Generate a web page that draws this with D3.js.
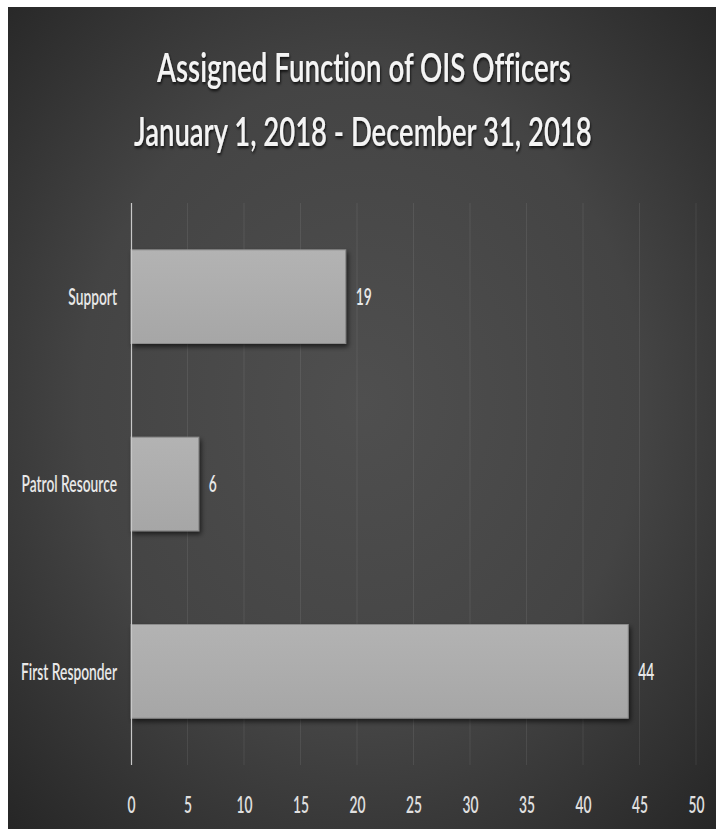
<!DOCTYPE html>
<html><head><meta charset="utf-8">
<script src="https://cdn.jsdelivr.net/npm/d3@7"></script>
<style>html,body{margin:0;padding:0;background:#fff;}svg{display:block;}text{font-variant-ligatures:none;}</style>
</head><body>
<script>
const categories = ["Support", "Patrol Resource", "First Responder"];
const values = [19, 6, 44];
const xTicks = [0, 5, 10, 15, 20, 25, 30, 35, 40, 45, 50];
const titleLines = ["Assigned Function of OIS Officers", "January 1, 2018 - December 31, 2018"];

const W = 726, H = 839;
const svg = d3.select("body").append("svg").attr("width", W).attr("height", H);
const defs = svg.append("defs");

const bg = defs.append("radialGradient").attr("id", "bg").attr("cx", "50%").attr("cy", "48%").attr("r", "72%");
bg.append("stop").attr("offset", "0%").attr("stop-color", "#4f4f4f");
bg.append("stop").attr("offset", "55%").attr("stop-color", "#444444");
bg.append("stop").attr("offset", "100%").attr("stop-color", "#262626");

const bar = defs.append("linearGradient").attr("id", "bar").attr("x1", 0).attr("y1", 0).attr("x2", 0).attr("y2", 1);
bar.append("stop").attr("offset", "0%").attr("stop-color", "#b3b3b3");
bar.append("stop").attr("offset", "100%").attr("stop-color", "#a6a6a6");

const sh = defs.append("filter").attr("id", "shadow").attr("x", "-10%").attr("y", "-20%").attr("width", "130%").attr("height", "160%");
sh.append("feDropShadow").attr("dx", 2).attr("dy", 3).attr("stdDeviation", 2.5).attr("flood-color", "#000").attr("flood-opacity", 0.6);

const tsh = defs.append("filter").attr("id", "tshadow").attr("x", "-5%").attr("y", "-20%").attr("width", "110%").attr("height", "160%");
tsh.append("feDropShadow").attr("dx", 1).attr("dy", 2).attr("stdDeviation", 1.5).attr("flood-color", "#000").attr("flood-opacity", 0.8);

// panel
svg.append("rect").attr("x", 8).attr("y", 7).attr("width", 708).attr("height", 822).attr("fill", "url(#bg)");

const x0 = 131, x1 = 696, yTop = 203, yBot = 765;
const x = d3.scaleLinear().domain([0, 50]).range([x0, x1]);
const y = d3.scaleBand().domain(categories).range([yTop, yBot]).paddingInner(0.5).paddingOuter(0.25);

const FONT = "Lato, 'Open Sans', sans-serif";
const SX = 0.6, FS = 23;

// gridlines
svg.append("g").selectAll("line").data(xTicks.filter(d => d > 0)).join("line")
  .attr("x1", d => x(d)).attr("x2", d => x(d)).attr("y1", yTop).attr("y2", yBot)
  .attr("stroke", "#ffffff").attr("stroke-opacity", 0.08).attr("stroke-width", 1);

// bars
svg.append("g").selectAll("rect").data(categories).join("rect")
  .attr("x", x(0)).attr("y", d => y(d))
  .attr("width", (d, i) => x(values[i]) - x(0)).attr("height", y.bandwidth())
  .attr("fill", "url(#bar)").attr("stroke", "#8c8c8c").attr("stroke-width", 1)
  .attr("filter", "url(#shadow)");

// axis line
svg.append("line").attr("x1", x0 + 0.5).attr("x2", x0 + 0.5).attr("y1", yTop).attr("y2", yBot)
  .attr("stroke", "#c8c8c8").attr("stroke-width", 1.2);

function squeezed(sel, sx) {
  sel.each(function() {
    const t = d3.select(this);
    const tx = +t.attr("x"), ty = +t.attr("y");
    t.attr("transform", `translate(${tx},${ty}) scale(${sx},1) translate(${-tx},${-ty})`);
  });
}

// x axis labels
const xAxis = d3.axisBottom(x).tickValues(xTicks).tickSize(0).tickPadding(0);
const gx = svg.append("g").attr("transform", `translate(0,${813})`).call(xAxis);
gx.select(".domain").remove();
gx.selectAll(".tick text").attr("y", 0).attr("dy", 0).attr("x", 0).attr("fill", "#e0e0e0")
  .attr("font-family", FONT).attr("font-size", FS).attr("font-weight", 600)
  .attr("transform", `scale(${SX},1)`);

// category labels
const cl = svg.append("g").selectAll("text").data(categories).join("text")
  .attr("x", 117).attr("y", d => y(d) + y.bandwidth() / 2 + 8.5)
  .attr("text-anchor", "end").attr("fill", "#e8e8e8")
  .attr("font-family", FONT).attr("font-size", FS).attr("font-weight", 600)
  .text(d => d);
squeezed(cl, SX);

// value labels
const vl = svg.append("g").selectAll("text").data(categories).join("text")
  .attr("x", (d, i) => x(values[i]) + 10).attr("y", (d, i) => y(d) + y.bandwidth() / 2 + 8.5)
  .attr("text-anchor", "start").attr("fill", "#e8e8e8")
  .attr("font-family", FONT).attr("font-size", FS).attr("font-weight", 600)
  .text((d, i) => values[i]);
squeezed(vl, SX);

// title
const targets = [[157, 571, 82], [134, 592, 146]];
titleLines.forEach((line, i) => {
  const [l, r, base] = targets[i];
  const t = svg.append("text").attr("x", 0).attr("y", 0)
    .attr("font-family", FONT).attr("font-size", 41).attr("font-weight", 600)
    .attr("fill", "#f4f4f4").attr("filter", "url(#tshadow)").text(line);
  const len = t.node().getComputedTextLength();
  const sx = (r - l) / len;
  t.attr("transform", `translate(${l},${base}) scale(${sx},1)`);
});
</script>
</body></html>
